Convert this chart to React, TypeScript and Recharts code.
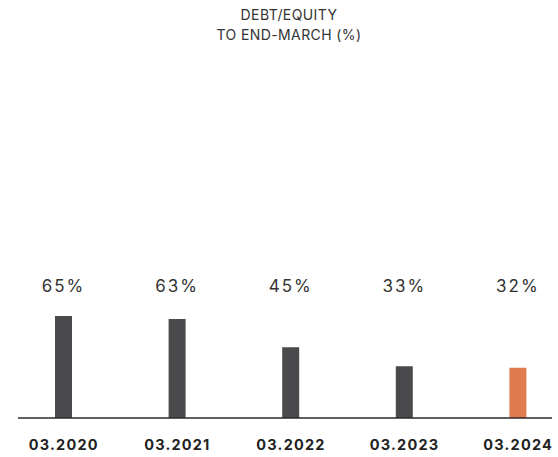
import { BarChart, Bar, XAxis, YAxis, Cell, LabelList } from 'recharts';

const periods = ['03.2020', '03.2021', '03.2022', '03.2023', '03.2024'];
const debtEquity = [65, 63, 45, 33, 32];

const data = periods.map((period, i) => ({ period, value: debtEquity[i] }));

const DARK = '#4a4a4c';
const ACCENT = '#e07a4f';
const TEXT = '#333333';
const FONT = 'Inter, "Noto Sans", sans-serif';

const ValueLabel = (props: any) => {
  const { x, width, value } = props;
  return (
    <text
      x={x + width / 2}
      y={292}
      textAnchor="middle"
      fill={TEXT}
      fontFamily={FONT}
      fontSize={17}
      fontWeight={400}
      letterSpacing={2}
    >
      {value}%
    </text>
  );
};

const PeriodTick = (props: any) => {
  const { x, y, payload } = props;
  return (
    <text
      x={x}
      y={y + 24}
      textAnchor="middle"
      fill="#222222"
      fontFamily={FONT}
      fontSize={14.5}
      fontWeight={700}
      letterSpacing={1.2}
    >
      {payload.value}
    </text>
  );
};

export default function App() {
  return (
    <div style={{ position: 'absolute', left: 0, top: 0, width: 558, height: 457, overflow: 'hidden', background: '#fff' }}>
      <div
        style={{
          position: 'absolute',
          top: 5,
          left: 0,
          width: 578,
          textAlign: 'center',
          fontFamily: FONT,
          fontSize: 14,
          lineHeight: '20px',
          color: TEXT,
          letterSpacing: 0.4,
        }}
      >
        DEBT/EQUITY
        <br />
        TO END-MARCH (%)
      </div>
      <BarChart
        width={558}
        height={457}
        data={data}
        margin={{ top: 261, right: 6, left: 18, bottom: 0 }}
      >
        <XAxis
          dataKey="period"
          axisLine={{ stroke: '#2a2a2a', strokeWidth: 1.5 }}
          tickLine={false}
          height={39}
          padding={{ left: -11, right: -23 }}
          interval={0}
          tick={<PeriodTick />}
        />
        <YAxis hide domain={[0, 100]} />
        <Bar dataKey="value" barSize={17} isAnimationActive={false}>
          {data.map((d, i) => (
            <Cell key={d.period} fill={i === data.length - 1 ? ACCENT : DARK} />
          ))}
          <LabelList dataKey="value" content={<ValueLabel />} />
        </Bar>
      </BarChart>
    </div>
  );
}
